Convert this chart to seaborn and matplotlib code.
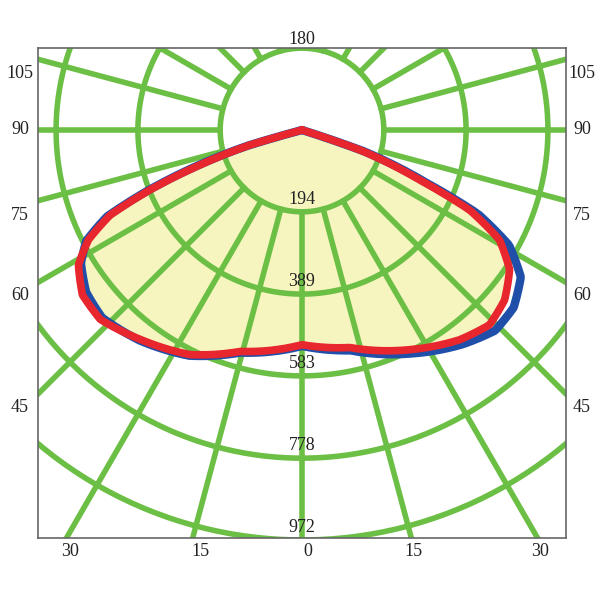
import numpy as np
import matplotlib
matplotlib.use("Agg")
import matplotlib.pyplot as plt
import seaborn as sns

sns.set_theme(style="white")
plt.rcParams['font.family'] = ['Liberation Serif', 'DejaVu Serif']

# gamma angle (deg), negative = left half; intensity (cd)
angles = [-75.0, -73.9, -71.1, -68.5, -66.1, -62.8, -58.9, -53.1, -46.8, -37.6, -26.5, -15.6, 0,
          12.4, 26.1, 36.9, 43.9, 50.0, 56.1, 60.9, 64.5, 67.0, 71.0, 72.5]
red_cd = [0, 128, 255, 387, 497, 569, 619, 651, 656, 627, 595, 545, 509,
          528, 580, 622, 641, 627, 593, 536, 440, 303, 145, 0]
blue_cd = [0, 132, 265, 395, 505, 575, 612, 640, 650, 630, 598, 548, 512,
           535, 590, 635, 660, 655, 625, 562, 462, 320, 155, 0]
ring_values = [194, 389, 583, 778, 972]
spoke_angles = list(range(0, 181, 15))

def xy(g, r):
    g = np.radians(np.asarray(g, float))
    r = np.asarray(r, float)
    return r * np.sin(g), -r * np.cos(g)

green = "#6cbf45"
fig = plt.figure(figsize=(6, 6), dpi=100)
ax = fig.add_axes([38/600, 62/600, 528/600, 490/600])
s = 194.4/82
ax.set_xlim(-264*s, 264*s)
ax.set_ylim(-408*s, 82*s)
ax.set_aspect('equal')
ax.set_xticks([]); ax.set_yticks([])
for sp in ax.spines.values():
    sp.set_color("#666666"); sp.set_linewidth(1.2)

t = np.linspace(0, 2*np.pi, 400)
for rv in ring_values:
    ax.plot(rv*np.cos(t), rv*np.sin(t), color=green, lw=4, zorder=2)
for a in spoke_angles:
    for sgn in ([1, -1] if a not in (0, 180) else [1]):
        x, y = xy([sgn*a, sgn*a], [ring_values[0], 3000])
        ax.plot(x, y, color=green, lw=4, zorder=2)

def smooth(ang, val):
    ang = np.array(ang, float); val = np.array(val, float)
    gg = np.linspace(ang[0], ang[-1], 400)
    return gg, np.interp(gg, ang, val)

gr, rr = smooth(angles, red_cd)
gb, bb = smooth(angles, blue_cd)
xr, yr = xy(gr, rr); xb, yb = xy(gb, bb)
ax.fill(xr, yr, color="#f7f5bf", zorder=1)
ax.plot(xb, yb, color="#1f4fa8", lw=6, zorder=3, solid_joinstyle='round')
ax.plot(xr, yr, color="#e8262e", lw=5.5, zorder=4, solid_joinstyle='round')

for rv, lab in zip(ring_values, ["194", "389", "583", "778", "972"]):
    ax.text(0, -rv + 30, lab, ha='center', va='center', fontsize=13, color="#222222", zorder=5)

ax.text(0, 90*s, "180", ha='center', va='center', fontsize=13, color="#222222",
        zorder=6, clip_on=False)
side = {105: 73, 90: 130, 75: 215, 60: 295, 45: 408}
for a, ypx in side.items():
    fig.text(20/600, 1 - ypx/600, str(a), ha='center', va='center', fontsize=13, color="#222222")
    fig.text(582/600, 1 - ypx/600, str(a), ha='center', va='center', fontsize=13, color="#222222")
for lab, xpx in [("30", 70), ("15", 200), ("0", 308), ("15", 413), ("30", 540)]:
    fig.text(xpx/600, 1 - 552/600, lab, ha='center', va='center', fontsize=13, color="#222222")

fig.savefig("out.png", dpi=100)
